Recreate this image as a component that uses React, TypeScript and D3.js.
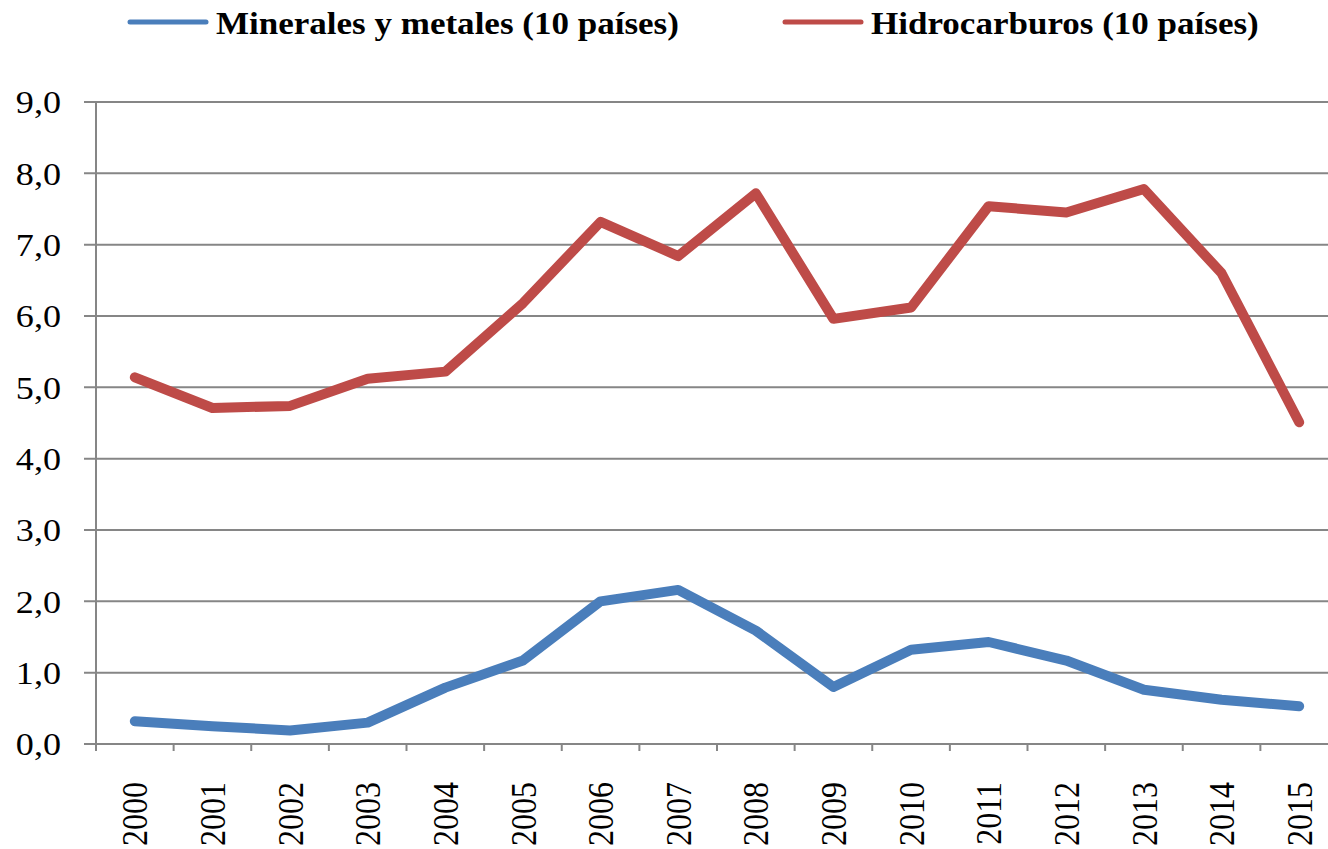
import * as d3 from "d3";

const years = [
  "2000", "2001", "2002", "2003", "2004", "2005", "2006", "2007",
  "2008", "2009", "2010", "2011", "2012", "2013", "2014", "2015",
];
const minerales = [0.32, 0.25, 0.19, 0.3, 0.79, 1.17, 2.0, 2.16, 1.59, 0.8, 1.32, 1.43, 1.17, 0.76, 0.62, 0.53];
const hidrocarburos = [5.14, 4.71, 4.74, 5.12, 5.22, 6.18, 7.32, 6.84, 7.72, 5.96, 6.12, 7.54, 7.45, 7.78, 6.6, 4.51];
const yTicks = [0, 1, 2, 3, 4, 5, 6, 7, 8, 9];
const seriesNames = ["Minerales y metales (10 países)", "Hidrocarburos (10 países)"];
const colors = ["#4a7ebb", "#be4b48"];

const W = 1328;
const H = 849;
const left = 96;
const right = 1338;
const top = 102;
const bottom = 744;
const stretch = 1.13; // source picture is a little wider than tall
const axisColor = "#868686";
const font = "'Liberation Serif', 'Times New Roman', serif";

export default function App() {
  const x = d3.scaleBand<string>().domain(years).range([left, right]);
  const y = d3.scaleLinear().domain([0, 9]).range([bottom, top]);
  const cx = (i: number) => (x(years[i]) as number) + x.bandwidth() / 2;

  const line = d3
    .line<number>()
    .x((_, i) => cx(i))
    .y((d) => y(d));

  // tick positions on category boundaries
  const boundaries = d3.range(years.length + 1).map((i) => left + i * x.step());

  const legendX = [130, 785];

  return (
    <div style={{ position: "absolute", left: 0, top: 0 }}>
      <svg width={W} height={H} style={{ display: "block", background: "#fff" }}>
        {/* legend */}
        {seriesNames.map((name, i) => (
          <g key={name}>
            <line
              x1={legendX[i]}
              x2={legendX[i] + 76}
              y1={22}
              y2={22}
              stroke={colors[i]}
              strokeWidth={5}
              strokeLinecap="round"
            />
            <text
              transform={`translate(${legendX[i] + 86},34) scale(${stretch},1)`}
              fontFamily={font}
              fontWeight="bold"
              fontSize={31}
              fill="#000"
            >
              {name}
            </text>
          </g>
        ))}

        {/* gridlines + y labels */}
        {yTicks.map((t) => (
          <g key={t}>
            <line x1={84} x2={right} y1={y(t)} y2={y(t)} stroke={axisColor} strokeWidth={2} />
            <text
              transform={`translate(61,${y(t)}) scale(${stretch},1)`}
              dy="0.35em"
              textAnchor="end"
              fontFamily={font}
              fontSize={32}
              fill="#000"
            >
              {d3.format(".1f")(t).replace(".", ",")}
            </text>
          </g>
        ))}

        {/* axes */}
        <line x1={left} x2={left} y1={top} y2={bottom} stroke={axisColor} strokeWidth={2} />
        {boundaries.map((b, i) => (
          <line key={i} x1={b} x2={b} y1={bottom} y2={bottom + 7} stroke={axisColor} strokeWidth={2} />
        ))}

        {/* x labels */}
        {years.map((yr, i) => (
          <text
            key={yr}
            transform={`translate(${cx(i)},782) scale(${stretch},1) rotate(-90)`}
            dy="0.35em"
            textAnchor="end"
            fontFamily={font}
            fontSize={32}
            fill="#000"
          >
            {yr}
          </text>
        ))}

        {/* series */}
        {[minerales, hidrocarburos].map((s, i) => (
          <path
            key={i}
            d={line(s) as string}
            fill="none"
            stroke={colors[i]}
            strokeWidth={10}
            strokeLinejoin="round"
            strokeLinecap="round"
          />
        ))}
      </svg>
    </div>
  );
}
